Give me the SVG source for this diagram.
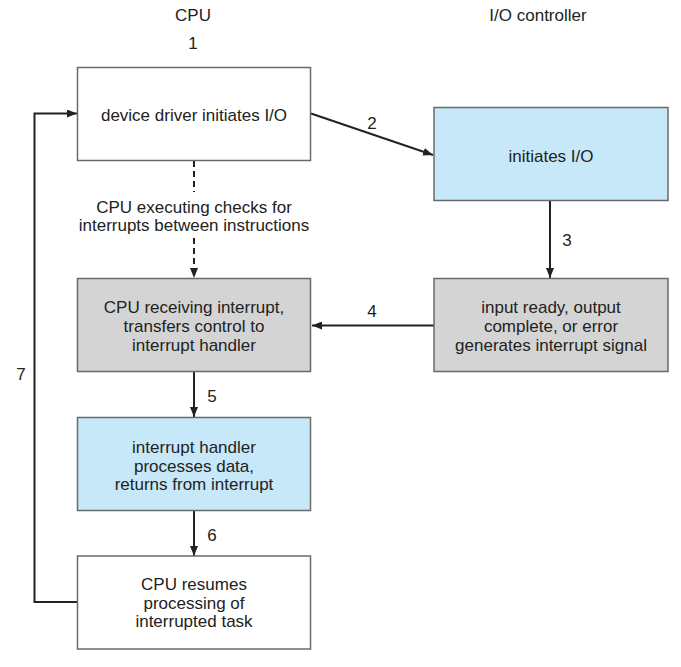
<svg xmlns="http://www.w3.org/2000/svg" width="681" height="667" viewBox="0 0 681 667">
<defs>
<marker id="ah" viewBox="0 0 10 8" refX="10" refY="4" markerWidth="10" markerHeight="8" markerUnits="userSpaceOnUse" orient="auto">
<path d="M0,0 L10,4 L0,8 z" fill="#222"/>
</marker>
</defs>
<style>
text{font-family:"Liberation Sans",Arial,sans-serif;font-size:17px;fill:#222;text-anchor:middle}
.box{stroke:#6a6a6a;stroke-width:1.5}
.white{fill:#ffffff}
.blue{fill:#c7e8f8}
.gray{fill:#d4d4d4}
.conn{stroke:#222;stroke-width:2;fill:none}
.dash{stroke:#222;stroke-width:2;fill:none;stroke-dasharray:6,4}
</style>
<rect width="681" height="667" fill="#ffffff"/>
<g id="headers">
<text x="193" y="21">CPU</text>
<text x="538" y="21">I/O controller</text>
</g>
<g id="connectors">
<line class="conn" x1="311" y1="113.5" x2="433" y2="155" marker-end="url(#ah)"/>
<line class="conn" x1="550" y1="201" x2="550" y2="278" marker-end="url(#ah)"/>
<line class="conn" x1="434" y1="325.5" x2="312" y2="325.5" marker-end="url(#ah)"/>
<line class="conn" x1="194" y1="372" x2="194" y2="417" marker-end="url(#ah)"/>
<line class="conn" x1="194" y1="510.5" x2="194" y2="556" marker-end="url(#ah)"/>
<polyline class="conn" points="77,602 34.5,602 34.5,113.5 77,113.5" marker-end="url(#ah)"/>
<line class="dash" x1="194" y1="161" x2="194" y2="192"/>
<line class="dash" x1="194" y1="238" x2="194" y2="278" marker-end="url(#ah)"/>
<text x="193" y="49">1</text>
<text x="372" y="129">2</text>
<text x="567" y="246">3</text>
<text x="372" y="317">4</text>
<text x="212" y="402">5</text>
<text x="212" y="541">6</text>
<text x="21" y="380">7</text>
<text x="194" y="213">CPU executing checks for</text>
<text x="194" y="231">interrupts between instructions</text>
</g>
<g id="n1">
<rect class="box white" x="77.5" y="67.5" width="233" height="93"/>
<text x="194" y="121">device driver initiates I/O</text>
</g>
<g id="n2">
<rect class="box blue" x="434" y="107.5" width="234" height="93"/>
<text x="551" y="162">initiates I/O</text>
</g>
<g id="n3">
<rect class="box gray" x="77.5" y="278.5" width="233" height="93"/>
<text x="194" y="313">CPU receiving interrupt,</text>
<text x="194" y="332">transfers control to</text>
<text x="194" y="351">interrupt handler</text>
</g>
<g id="n4">
<rect class="box gray" x="434" y="278.5" width="234" height="93"/>
<text x="551" y="313">input ready, output</text>
<text x="551" y="332">complete, or error</text>
<text x="551" y="351">generates interrupt signal</text>
</g>
<g id="n5">
<rect class="box blue" x="77.5" y="417.5" width="233" height="93"/>
<text x="194" y="453">interrupt handler</text>
<text x="194" y="471.5">processes data,</text>
<text x="194" y="490">returns from interrupt</text>
</g>
<g id="n6">
<rect class="box white" x="77.5" y="556" width="233" height="93"/>
<text x="194" y="590">CPU resumes</text>
<text x="194" y="608.5">processing of</text>
<text x="194" y="627">interrupted task</text>
</g>
</svg>
